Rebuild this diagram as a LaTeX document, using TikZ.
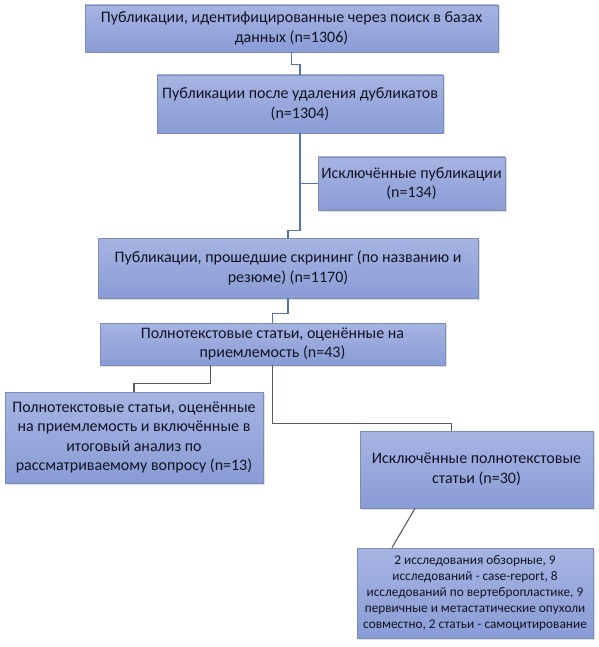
\documentclass[tikz,border=0pt]{standalone}
\usepackage{fontspec}
\setmainfont{Carlito}
\usetikzlibrary{shadows}
\definecolor{boxtop}{RGB}{166,180,226}
\definecolor{boxbot}{RGB}{138,156,214}
\definecolor{boxline}{RGB}{125,140,180}
\definecolor{txt}{RGB}{18,20,36}
\definecolor{connblue}{RGB}{84,112,184}
\definecolor{conngray}{RGB}{85,90,105}
\tikzset{
  fbox/.style={rectangle, draw=boxline, line width=0.8pt, top color=boxtop, bottom color=boxbot,
    align=center, inner sep=1pt, text=txt,
    font=\fontsize{16}{19.5}\selectfont,
    drop shadow={opacity=0.25, shadow xshift=1.5pt, shadow yshift=-1.5pt}},
  cblue/.style={draw=connblue, line width=1.3pt},
  cgray/.style={draw=conngray, line width=1.1pt},
}
\begin{document}
\begin{tikzpicture}[x=1pt,y=-1pt]
\useasboundingbox (0,0) rectangle (598,647);
\node[fbox, minimum width=413pt, minimum height=47pt] (b1) at (291.5,28.5)
  {Публикации, идентифицированные через поиск в базах\\данных (n=1306)};
\node[fbox, minimum width=286pt, minimum height=58pt] (b2) at (300,104)
  {Публикации после удаления дубликатов\\(n=1304)};
\node[fbox, minimum width=187pt, minimum height=53pt] (b3) at (411.5,183.5)
  {Исключённые публикации\\(n=134)};
\node[fbox, minimum width=380pt, minimum height=60pt] (b4) at (288,268)
  {Публикации, прошедшие скрининг (по названию и\\резюме) (n=1170)};
\node[fbox, minimum width=345pt, minimum height=42pt] (b5) at (272.5,344)
  {Полнотекстовые статьи, оценённые на\\приемлемость (n=43)};
\node[fbox, minimum width=258pt, minimum height=91pt] (b6) at (134,437.5)
  {Полнотекстовые статьи, оценённые\\на приемлемость и включённые в\\итоговый анализ по\\рассматриваемому вопросу (n=13)};
\node[fbox, minimum width=233pt, minimum height=77pt] (b7) at (476.5,469.5)
  {Исключённые полнотекстовые\\статьи (n=30)};
\node[fbox, minimum width=236pt, minimum height=90pt, font=\fontsize{13.3}{16}\selectfont] (b8) at (475,593)
  {2 исследования обзорные, 9\\исследований - case-report, 8\\исследований по вертебропластике, 9\\первичные и метастатические опухоли\\совместно, 2 статьи - самоцитирование};

\draw[cblue] (b1.south) -- ++(0,12) -| (b2.north);
\draw[cblue] (b2.south) -- ++(0,97) -| (b4.north);
\draw[cblue] (b3.west) -- (b3.west -| b2.south);
\draw[cblue] (b4.south) -- ++(0,15) -| (b5.north);
\draw[cgray] ([xshift=-62pt]b5.south) -- ++(0,18) -| (b6.north);
\draw[cgray] (b5.south) -- ++(0,58) -| ([xshift=-25pt]b7.north);
\draw[cgray] ([xshift=-61.5pt]b7.south) -- ([xshift=-83pt]b8.north);
\end{tikzpicture}
\end{document}
